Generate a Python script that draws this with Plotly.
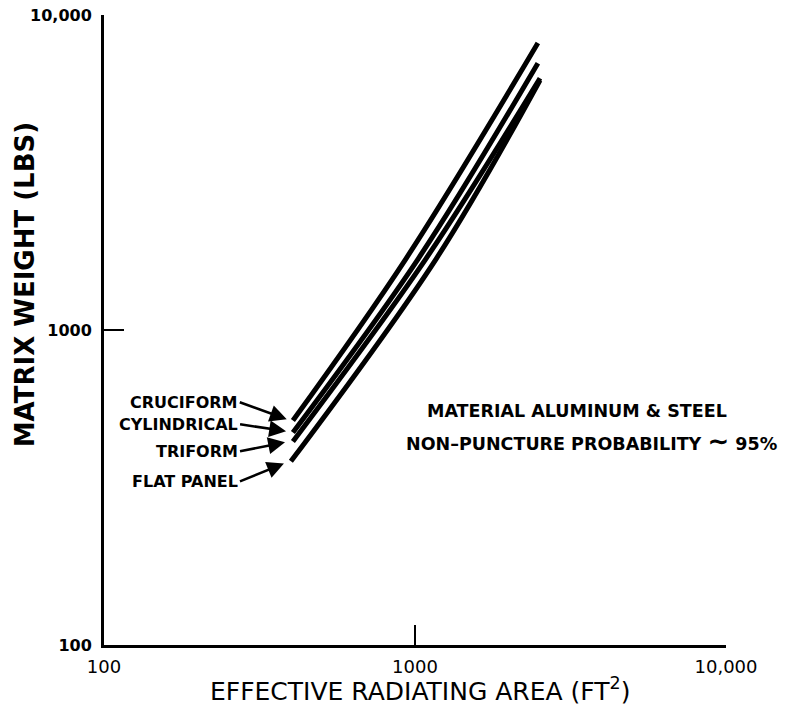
import math
import plotly.graph_objects as go

# Data (log-log)
series_names = ["CRUCIFORM", "CYLINDRICAL", "TRIFORM", "FLAT PANEL"]
area_cruciform = [405, 935, 2484]
weight_cruciform = [516, 1683, 8147]
area_cylindrical = [405, 1024, 2484]
weight_cylindrical = [473, 1683, 7030]
area_triform = [405, 1084, 2523]
weight_triform = [443, 1683, 6296]
area_flat = [399, 1170, 2523]
weight_flat = [383, 1683, 6210]

# arrow heads (area, weight) for the labels
arrow_area = [387, 385, 382, 379]
arrow_weight = [521, 477, 440, 377]

x_tickvals = [100, 1000, 10000]
x_ticktext = ["100", "1000", "10,000"]
y_tickvals = [100, 1000, 10000]
y_ticktext = ["100", "1000", "10,000"]

FONT = "DejaVu Sans"

fig = go.Figure()
for xs, ys, name in [
    (area_cruciform, weight_cruciform, series_names[0]),
    (area_cylindrical, weight_cylindrical, series_names[1]),
    (area_triform, weight_triform, series_names[2]),
    (area_flat, weight_flat, series_names[3]),
]:
    fig.add_trace(go.Scatter(x=xs, y=ys, mode="lines", name=name,
                             line=dict(color="black", width=5, shape="spline", smoothing=1.0),
                             showlegend=False, hoverinfo="skip"))

offsets = [(-47, -17), (-46, -7), (-45, 9), (-44, 18)]
for name, hx, hy, (ax, ay) in zip(series_names, arrow_area, arrow_weight, offsets):
    fig.add_annotation(x=math.log10(hx), y=math.log10(hy), xref="x", yref="y", text=name,
                       showarrow=True, ax=ax, ay=ay, axref="pixel", ayref="pixel",
                       xanchor="right", arrowhead=2, arrowsize=1.35, arrowwidth=2.5,
                       arrowcolor="black",
                       font=dict(family=FONT, size=16, color="black", weight="bold"))

fig.add_annotation(x=0.516, y=0.371, xref="paper", yref="paper",
                   text="MATERIAL ALUMINUM &amp; STEEL", showarrow=False,
                   xanchor="left", yanchor="middle",
                   font=dict(family=FONT, size=17.5, color="black", weight="bold"))
fig.add_annotation(x=0.482, y=0.324, xref="paper", yref="paper",
                   text="NON–PUNCTURE PROBABILITY <span style='font-size:26px'>∼</span> 95%", showarrow=False,
                   xanchor="left", yanchor="middle",
                   font=dict(family=FONT, size=17.5, color="black", weight="bold"))

# axis titles
fig.add_annotation(x=-0.127, y=0.571, xref="paper", yref="paper",
                   text="MATRIX WEIGHT (LBS)", showarrow=False, textangle=-90,
                   xanchor="center", yanchor="middle",
                   font=dict(family=FONT, size=26, color="black", weight="bold"))
fig.add_annotation(x=0.508, y=-0.071, xref="paper", yref="paper",
                   text="EFFECTIVE RADIATING AREA (FT<sup>2</sup>)", showarrow=False,
                   xanchor="center", yanchor="middle",
                   font=dict(family=FONT, size=25, color="black"))

fig.update_xaxes(type="log", range=[2, 4], tickvals=x_tickvals, ticktext=x_ticktext,
                 ticks="inside", ticklen=20, tickwidth=2, tickcolor="black",
                 showline=True, linewidth=3, linecolor="black", showgrid=False,
                 zeroline=False, automargin=False, ticklabelstandoff=3,
                 tickfont=dict(family=FONT, size=18, color="black"))
fig.update_yaxes(type="log", range=[2, 4], tickvals=y_tickvals, ticktext=y_ticktext,
                 ticks="inside", ticklen=20, tickwidth=2, tickcolor="black",
                 showline=True, linewidth=3, linecolor="black", showgrid=False,
                 zeroline=False, automargin=False, ticklabelstandoff=6,
                 tickfont=dict(family=FONT, size=16, color="black", weight="bold"))

fig.update_layout(width=795, height=710, margin=dict(l=104, r=69, t=15, b=65),
                  plot_bgcolor="white", paper_bgcolor="white")

fig.write_html("out.html")
